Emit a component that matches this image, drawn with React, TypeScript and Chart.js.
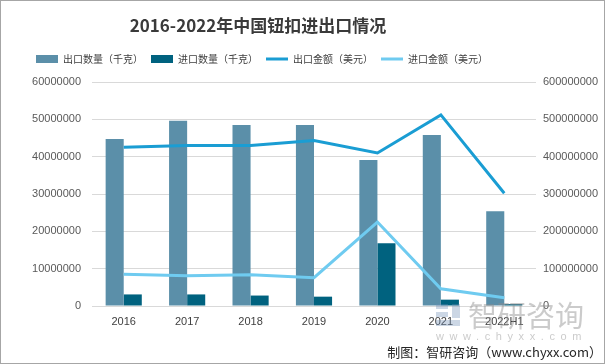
import React, { useEffect, useRef } from 'react';
import { Chart, registerables } from 'chart.js';

Chart.register(...registerables);

const categories = ['2016', '2017', '2018', '2019', '2020', '2021', '2022H1'];
const exportQty = [44700000, 49600000, 48500000, 48500000, 39100000, 45800000, 25400000];
const importQty = [3100000, 3100000, 2800000, 2500000, 16800000, 1700000, 500000];
const exportAmt = [425000000, 430000000, 430000000, 443000000, 410000000, 512000000, 302000000];
const importAmt = [85000000, 81000000, 84000000, 76000000, 225000000, 46000000, 22000000];
const seriesNames = ['出口数量（千克）', '进口数量（千克）', '出口金额（美元）', '进口金额（美元）'];

const CJK = '"Noto Sans CJK SC", "Noto Sans", sans-serif';
const NUM = '"Liberation Sans", "DejaVu Sans", sans-serif';

export default function App() {
  const ref = useRef<HTMLCanvasElement>(null);

  useEffect(() => {
    const chart = new Chart(ref.current as HTMLCanvasElement, {
      type: 'bar',
      data: {
        labels: categories,
        datasets: [
          {
            type: 'bar', label: seriesNames[0], data: exportQty, backgroundColor: '#5B8FA9',
            borderWidth: 0, yAxisID: 'y', order: 2, pointStyle: 'rect',
            barPercentage: 1, categoryPercentage: 0.57,
          } as any,
          {
            type: 'bar', label: seriesNames[1], data: importQty, backgroundColor: '#00627F',
            borderWidth: 0, yAxisID: 'y', order: 2, pointStyle: 'rect',
            barPercentage: 1, categoryPercentage: 0.57,
          } as any,
          {
            type: 'line', label: seriesNames[2], data: exportAmt, borderColor: '#1A9DD3',
            backgroundColor: '#1A9DD3', borderWidth: 3, pointRadius: 0, pointHoverRadius: 0,
            pointStyle: 'line', pointBorderWidth: 3, pointBorderColor: '#1A9DD3',
            yAxisID: 'y1', order: 1, tension: 0,
          } as any,
          {
            type: 'line', label: seriesNames[3], data: importAmt, borderColor: '#6FCBF0',
            backgroundColor: '#6FCBF0', borderWidth: 3, pointRadius: 0, pointHoverRadius: 0,
            pointStyle: 'line', pointBorderWidth: 3, pointBorderColor: '#6FCBF0',
            yAxisID: 'y1', order: 1, tension: 0,
          } as any,
        ],
      },
      options: {
        responsive: false,
        animation: false,
        devicePixelRatio: 1,
        layout: { padding: { left: 28, right: 0, top: 46, bottom: 36 } },
        plugins: {
          title: { display: false },
          subtitle: {
            display: true, text: '', position: 'top', weight: 500,
            font: { size: 1, lineHeight: 1 }, padding: { top: 7, bottom: 0 },
          } as any,
          legend: {
            position: 'top',
            align: 'start',
            labels: {
              usePointStyle: true,
              pointStyleWidth: 22,
              boxHeight: 8,
              padding: 8,
              color: '#404040',
              font: { size: 10, family: CJK },
              sort: (a: any, b: any) => a.datasetIndex - b.datasetIndex,
            },
          },
          tooltip: { enabled: false },
        },
        scales: {
          x: {
            grid: { display: false, drawTicks: false },
            border: { display: false },
            ticks: { padding: 9, color: '#404040', font: { size: 11, family: NUM } },
            afterFit: (s: any) => { s.height = 22; },
          },
          y: {
            position: 'left',
            min: 0,
            max: 60000000,
            ticks: {
              stepSize: 10000000, padding: 11, color: '#595959',
              font: { size: 11, family: NUM },
              callback: (v: any) => String(v),
            },
            grid: { color: '#d9d9d9', drawTicks: false },
            border: { display: false },
            afterFit: (s: any) => { s.width = 64; },
          },
          y1: {
            position: 'right',
            min: 0,
            max: 600000000,
            ticks: {
              stepSize: 100000000, padding: 7, color: '#595959',
              font: { size: 11, family: NUM },
              callback: (v: any) => String(v),
            },
            grid: { display: false, drawTicks: false },
            border: { display: false },
            afterFit: (s: any) => { s.width = 69; },
          },
        },
      } as any,
    });
    return () => chart.destroy();
  }, []);

  return (
    <div style={{ position: 'absolute', left: 0, top: 0, width: 605, height: 364, background: '#fff', overflow: 'hidden' }}>
      <canvas ref={ref} width={605} height={364} style={{ position: 'absolute', left: 0, top: 0, width: 605, height: 364 }} />
      <div style={{
        position: 'absolute', left: 0, top: 14, width: 516, textAlign: 'center',
        font: `bold 17px ${CJK}`, lineHeight: '21px', color: '#3a3a3a', whiteSpace: 'nowrap',
      }}>2016-2022年中国钮扣进出口情况</div>
      {/* watermark */}
      <div style={{ position: 'absolute', left: 436, top: 304, width: 28, height: 24, pointerEvents: 'none' }}>
        <div style={{ position: 'absolute', left: 0, top: 0, width: 12, height: 5, background: 'rgba(110,140,180,0.35)' }} />
        <div style={{ position: 'absolute', left: 0, top: 8, width: 12, height: 5, background: 'rgba(110,140,180,0.35)' }} />
        <div style={{ position: 'absolute', left: 0, top: 16, width: 24, height: 6, background: 'rgba(110,140,180,0.35)' }} />
        <div style={{ position: 'absolute', left: 16, top: 0, width: 8, height: 14, background: 'rgba(110,140,180,0.35)' }} />
      </div>
      <div style={{
        position: 'absolute', left: 468, top: 296, font: `29px ${CJK}`, lineHeight: '36px',
        color: 'rgba(140,140,140,0.45)', whiteSpace: 'nowrap', pointerEvents: 'none',
      }}>智研咨询</div>
      <div style={{
        position: 'absolute', left: 436, top: 330, font: `11px ${NUM}`, lineHeight: '13px', letterSpacing: '5.6px',
        color: 'rgba(140,140,140,0.45)', whiteSpace: 'nowrap', pointerEvents: 'none',
      }}>www.chyxx.com</div>
      <div style={{
        position: 'absolute', right: 3, top: 344, font: `13px ${CJK}`, lineHeight: '16px',
        color: '#262626', whiteSpace: 'nowrap',
      }}>制图：智研咨询（www.chyxx.com）</div>
      <div style={{ position: 'absolute', left: 0, top: 0, width: 605, height: 364, boxSizing: 'border-box', border: '1px solid #a6a6a6', pointerEvents: 'none' }} />
    </div>
  );
}
